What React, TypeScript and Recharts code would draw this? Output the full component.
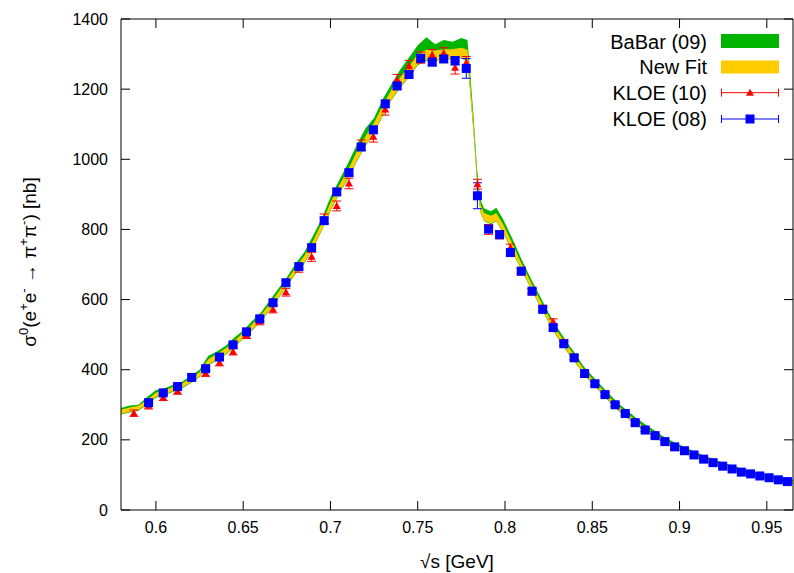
import React from 'react';
import { ComposedChart, Area, Scatter, XAxis, YAxis, ErrorBar, Legend, Label } from 'recharts';

// ---- axis ticks ----
const xTicks = [0.6, 0.65, 0.7, 0.75, 0.8, 0.85, 0.9, 0.95];
const yTicks = [0, 200, 400, 600, 800, 1000, 1200, 1400];

// ---- bands (BaBar 09 and New Fit), sqrt(s) in GeV, sigma in nb ----
const bandX = [0.580,0.585,0.590,0.595,0.600,0.605,0.610,0.615,0.620,0.625,
  0.630,0.635,0.640,0.645,0.650,0.655,0.660,0.665,0.670,0.675,
  0.680,0.685,0.690,0.695,0.700,0.705,0.710,0.715,0.720,0.725,
  0.730,0.735,0.740,0.745,0.750,0.755,0.760,0.765,0.770,0.775,
  0.7785,0.780,0.782,0.784,0.786,0.788,0.792,0.795,0.799,0.804,0.809,
  0.815,0.820,0.825,0.830,0.835,0.840,0.845,0.850,0.855,0.860,
  0.865,0.870,0.875,0.880,0.885,0.890,0.895,0.900,0.905,0.910,
  0.915,0.920,0.925,0.930,0.935,0.940,0.945,0.950,0.955,0.960,0.965];
const fitLow = [274,280,285,302,322,330,339,349,364,381,
  414,429,445,466,490,513,539,570,604,640,
  675,705,747,798,854,904,945,995,1039,1076,
  1126,1171,1206,1236,1270,1283,1282,1287,1287,1290,
  1280,1195,1076,933,849,825,817,825,792,740,690,
  632,584,537,494,457,424,390,362,336,309,
  285,264,245,227,211,196,182,171,160,149,
  139,131,123,115,108,101,95,90,85,81,77];
const fitHigh = [286,292,297,314,334,342,351,361,376,393,
  430,445,461,482,506,529,555,586,620,656,
  691,725,767,818,876,926,969,1021,1065,1104,
  1154,1199,1234,1264,1300,1312,1310,1314,1314,1318,
  1312,1225,1104,957,871,847,839,847,814,762,708,
  648,600,553,510,473,440,402,374,348,321,
  297,276,255,237,221,204,190,179,168,157,
  147,139,129,121,114,107,101,96,91,87,83];
const babarLow = [272,278,283,300,320,328,337,347,362,379,
  412,427,443,464,488,511,537,568,602,638,
  673,703,745,796,852,902,943,993,1037,1074,
  1124,1169,1204,1234,1268,1281,1280,1285,1285,1288,
  1278,1193,1074,931,847,823,815,823,790,738,688,
  630,582,535,492,455,422,388,360,334,307,
  283,262,243,225,209,194,180,169,158,147,
  137,129,121,113,106,99,93,88,83,79,75];
const babarHigh = [291,298,300,322,342,347,357,366,383,400,
  440,452,468,492,512,538,562,596,630,663,
  702,735,782,830,892,940,988,1040,1088,1118,
  1172,1215,1256,1290,1325,1348,1328,1340,1335,1346,
  1340,1248,1122,972,884,860,852,862,828,776,720,
  658,610,562,520,482,448,410,382,356,329,
  304,284,263,245,229,212,198,186,175,163,
  153,144,135,127,119,112,106,100,95,91,87];

// ---- KLOE (08) ----
const kloe08X = [0.5958,0.6042,0.6124,0.6205,0.6285,0.6364,0.6442,0.6519,0.6595,0.6671,
  0.6745,0.6819,0.6892,0.6964,0.7036,0.7106,0.7176,0.7246,0.7314,0.7382,
  0.7450,0.7517,0.7583,0.7649,0.7714,0.7778,0.7842,0.7906,0.7969,0.8031,
  0.8093,0.8155,0.8216,0.8276,0.8337,0.8396,0.8456,0.8515,0.8573,0.8631,
  0.8689,0.8746,0.8803,0.8860,0.8916,0.8972,0.9028,0.9083,0.9138,0.9192,
  0.9247,0.9301,0.9354,0.9407,0.9460,0.9513,0.9566,0.9618];
const kloe08Y = [306,334,352,378,403,436,471,508,545,591,
  648,694,748,825,907,962,1035,1084,1158,1209,
  1242,1288,1277,1286,1281,1259,896,801,785,734,
  681,624,572,520,474,434,389,360,329,300,
  275,249,228,212,195,180,169,157,145,135,
  125,117,108,103,97,92,86,81];
const kloe08Err = [5,5,5,5,5,6,6,6,6,6,
  7,7,8,8,8,9,9,10,10,10,
  10,10,10,10,12,28,37,10,8,8,
  7,7,6,6,6,5,5,5,5,5,
  4,4,4,4,4,3,3,3,3,3,
  3,3,3,3,3,3,3,3];

// ---- KLOE (10) ----
const kloe10X = [0.5874,0.5958,0.6042,0.6124,0.6205,0.6285,0.6364,0.6442,0.6519,0.6595,
  0.6671,0.6745,0.6819,0.6892,0.6964,0.7036,0.7106,0.7176,0.7246,0.7314,
  0.7382,0.7450,0.7517,0.7583,0.7649,0.7714,0.7778,0.7842,0.7906,0.7969,
  0.8031,0.8093,0.8155,0.8216,0.8276,0.8337,0.8396,0.8456,0.8515,0.8573,
  0.8631,0.8689,0.8746,0.8803,0.8860,0.8916,0.8972,0.9028,0.9083,0.9138,0.9192];
const kloe10Y = [276,297,321,339,380,390,420,451,499,538,
  572,621,690,722,830,867,931,1040,1064,1142,
  1226,1266,1290,1297,1302,1261,1275,929,800,785,
  748,680,622,575,537,478,435,391,360,330,
  300,275,250,229,211,194,179,168,156,144,134];
const kloe10Err = [9,9,9,9,9,9,9,9,10,10,
  10,11,12,13,14,14,15,15,15,16,
  16,16,16,16,16,18,18,14,14,12,
  10,10,9,9,8,8,7,7,7,6,
  6,6,5,5,5,5,5,4,4,4,4];

const legendLabels = ['BaBar (09)', 'New Fit', 'KLOE (10)', 'KLOE (08)'];

const GREEN = '#00b400';
const YELLOW = '#ffcc00';
const RED = '#ff0000';
const BLUE = '#0000ff';
const FONT = '"Liberation Sans", Arial, Helvetica, sans-serif';

const bandData = bandX.map((x, i) => ({
  x,
  babar: [babarLow[i], babarHigh[i]],
  fit: [fitLow[i], fitHigh[i]],
}));
const kloe08 = kloe08X.map((x, i) => ({ x, y: kloe08Y[i], err: kloe08Err[i] }));
const kloe10 = kloe10X.map((x, i) => ({ x, y: kloe10Y[i], err: kloe10Err[i] }));

const TICK = 9;

const BottomTick = (p: any) => (
  <g>
    <line x1={p.x} y1={p.y} x2={p.x} y2={p.y - TICK} stroke="#000" strokeWidth={1} />
    <text x={p.x} y={p.y + 23} textAnchor="middle" fontSize={16} fontFamily={FONT} fill="#000">
      {String(p.payload.value)}
    </text>
  </g>
);
const TopTick = (p: any) => (
  <line x1={p.x} y1={p.y} x2={p.x} y2={p.y + TICK} stroke="#000" strokeWidth={1} />
);
const LeftTick = (p: any) => (
  <g>
    <line x1={p.x} y1={p.y} x2={p.x + TICK} y2={p.y} stroke="#000" strokeWidth={1} />
    <text x={p.x - 13} y={p.y + 5.5} textAnchor="end" fontSize={16} fontFamily={FONT} fill="#000">
      {String(p.payload.value)}
    </text>
  </g>
);
const RightTick = (p: any) => (
  <line x1={p.x} y1={p.y} x2={p.x - TICK} y2={p.y} stroke="#000" strokeWidth={1} />
);

const Square = (p: any) => (
  <rect x={p.cx - 4.5} y={p.cy - 4.5} width={9} height={9} fill={BLUE} />
);
const Triangle = (p: any) => (
  <polygon
    points={`${p.cx - 4},${p.cy + 3} ${p.cx + 4},${p.cy + 3} ${p.cx},${p.cy - 4}`}
    fill={RED}
  />
);

const LegendBox = () => (
  <svg width={200} height={110} style={{ display: 'block' }}>
    <g fontFamily={FONT} fontSize={20} fill="#000">
      <text x={117} y={20.7} textAnchor="end">{legendLabels[0]}</text>
      <text x={117} y={46} textAnchor="end">{legendLabels[1]}</text>
      <text x={117} y={71.7} textAnchor="end">{legendLabels[2]}</text>
      <text x={117} y={98} textAnchor="end">{legendLabels[3]}</text>
    </g>
    <rect x={131} y={6} width={58} height={14} fill={GREEN} />
    <rect x={131} y={32.5} width={58} height={13} fill={YELLOW} />
    <g stroke={RED} strokeWidth={1}>
      <line x1={131.5} y1={64.7} x2={188.5} y2={64.7} />
      <line x1={131.5} y1={60.7} x2={131.5} y2={68.7} />
      <line x1={188.5} y1={60.7} x2={188.5} y2={68.7} />
    </g>
    <polygon points="156,67.7 164,67.7 160,60.7" fill={RED} />
    <g stroke={BLUE} strokeWidth={1}>
      <line x1={131.5} y1={91} x2={188.5} y2={91} />
      <line x1={131.5} y1={87} x2={131.5} y2={95} />
      <line x1={188.5} y1={87} x2={188.5} y2={95} />
    </g>
    <rect x={155.5} y={86.5} width={9} height={9} fill={BLUE} />
  </svg>
);

const YLabel = () => (
  <text
    x={36}
    y={262}
    transform="rotate(-90, 36, 262)"
    textAnchor="middle"
    fontSize={19}
    fontFamily={FONT}
    fill="#000"
  >
    σ<tspan dy={-8} fontSize={13}>0</tspan>
    <tspan dy={8}>(e</tspan><tspan dy={-8} fontSize={13}>+</tspan>
    <tspan dy={8}>e</tspan><tspan dy={-8} fontSize={13}>-</tspan>
    <tspan dy={8}> → π</tspan><tspan dy={-8} fontSize={13}>+</tspan>
    <tspan dy={8}>π</tspan><tspan dy={-8} fontSize={13}>-</tspan>
    <tspan dy={8}>) [nb]</tspan>
  </text>
);

const XLabel = () => (
  <text x={457} y={568} textAnchor="middle" fontSize={19} fontFamily={FONT} fill="#000">
    √s [GeV]
  </text>
);

export default function App() {
  return (
    <div style={{ position: 'absolute', left: 0, top: 0, width: 794, height: 573, background: '#fff' }}>
      <ComposedChart width={794} height={573} margin={{ top: 0, right: 0, bottom: 0, left: 0 }}>
        <XAxis
          xAxisId="b"
          type="number"
          dataKey="x"
          orientation="bottom"
          height={63}
          domain={[0.58, 0.965]}
          allowDataOverflow
          ticks={xTicks}
          interval={0}
          tickSize={0}
          tickMargin={0}
          tickLine={false}
          tick={<BottomTick />}
          axisLine={{ stroke: '#000', strokeWidth: 1 }}
        >
          <Label content={<XLabel />} />
        </XAxis>
        <XAxis
          xAxisId="t"
          type="number"
          dataKey="x"
          orientation="top"
          height={19}
          domain={[0.58, 0.965]}
          allowDataOverflow
          ticks={xTicks}
          interval={0}
          tickSize={0}
          tickMargin={0}
          tickLine={false}
          tick={<TopTick />}
          axisLine={{ stroke: '#000', strokeWidth: 1 }}
        />
        <YAxis
          yAxisId="l"
          type="number"
          dataKey="y"
          orientation="left"
          width={121}
          domain={[0, 1400]}
          allowDataOverflow
          ticks={yTicks}
          interval={0}
          tickSize={0}
          tickMargin={0}
          tickLine={false}
          tick={<LeftTick />}
          axisLine={{ stroke: '#000', strokeWidth: 1 }}
        >
          <Label content={<YLabel />} />
        </YAxis>
        <YAxis
          yAxisId="r"
          type="number"
          dataKey="y"
          orientation="right"
          width={1}
          domain={[0, 1400]}
          allowDataOverflow
          ticks={yTicks}
          interval={0}
          tickSize={0}
          tickMargin={0}
          tickLine={false}
          tick={<RightTick />}
          axisLine={{ stroke: '#000', strokeWidth: 1 }}
        />
        <Area
          xAxisId="b"
          yAxisId="l"
          data={bandData}
          dataKey="babar"
          type="linear"
          stroke="none"
          fill={GREEN}
          fillOpacity={1}
          dot={false}
          activeDot={false}
          isAnimationActive={false}
        />
        <Area
          xAxisId="b"
          yAxisId="l"
          data={bandData}
          dataKey="fit"
          type="linear"
          stroke="none"
          fill={YELLOW}
          fillOpacity={1}
          dot={false}
          activeDot={false}
          isAnimationActive={false}
        />
        <Scatter
          xAxisId="b"
          yAxisId="l"
          data={kloe10}
          dataKey="y"
          shape={<Triangle />}
          isAnimationActive={false}
        >
          <ErrorBar dataKey="err" direction="y" width={4.5} stroke={RED} strokeWidth={1} isAnimationActive={false} />
        </Scatter>
        <Scatter
          xAxisId="b"
          yAxisId="l"
          data={kloe08}
          dataKey="y"
          shape={<Square />}
          isAnimationActive={false}
        >
          <ErrorBar dataKey="err" direction="y" width={4.5} stroke={BLUE} strokeWidth={1} isAnimationActive={false} />
        </Scatter>
        <Legend
          layout="vertical"
          align="center"
          verticalAlign="middle"
          wrapperStyle={{ left: 590, top: 28, width: 200, height: 110 }}
          content={<LegendBox />}
        />
      </ComposedChart>
    </div>
  );
}
